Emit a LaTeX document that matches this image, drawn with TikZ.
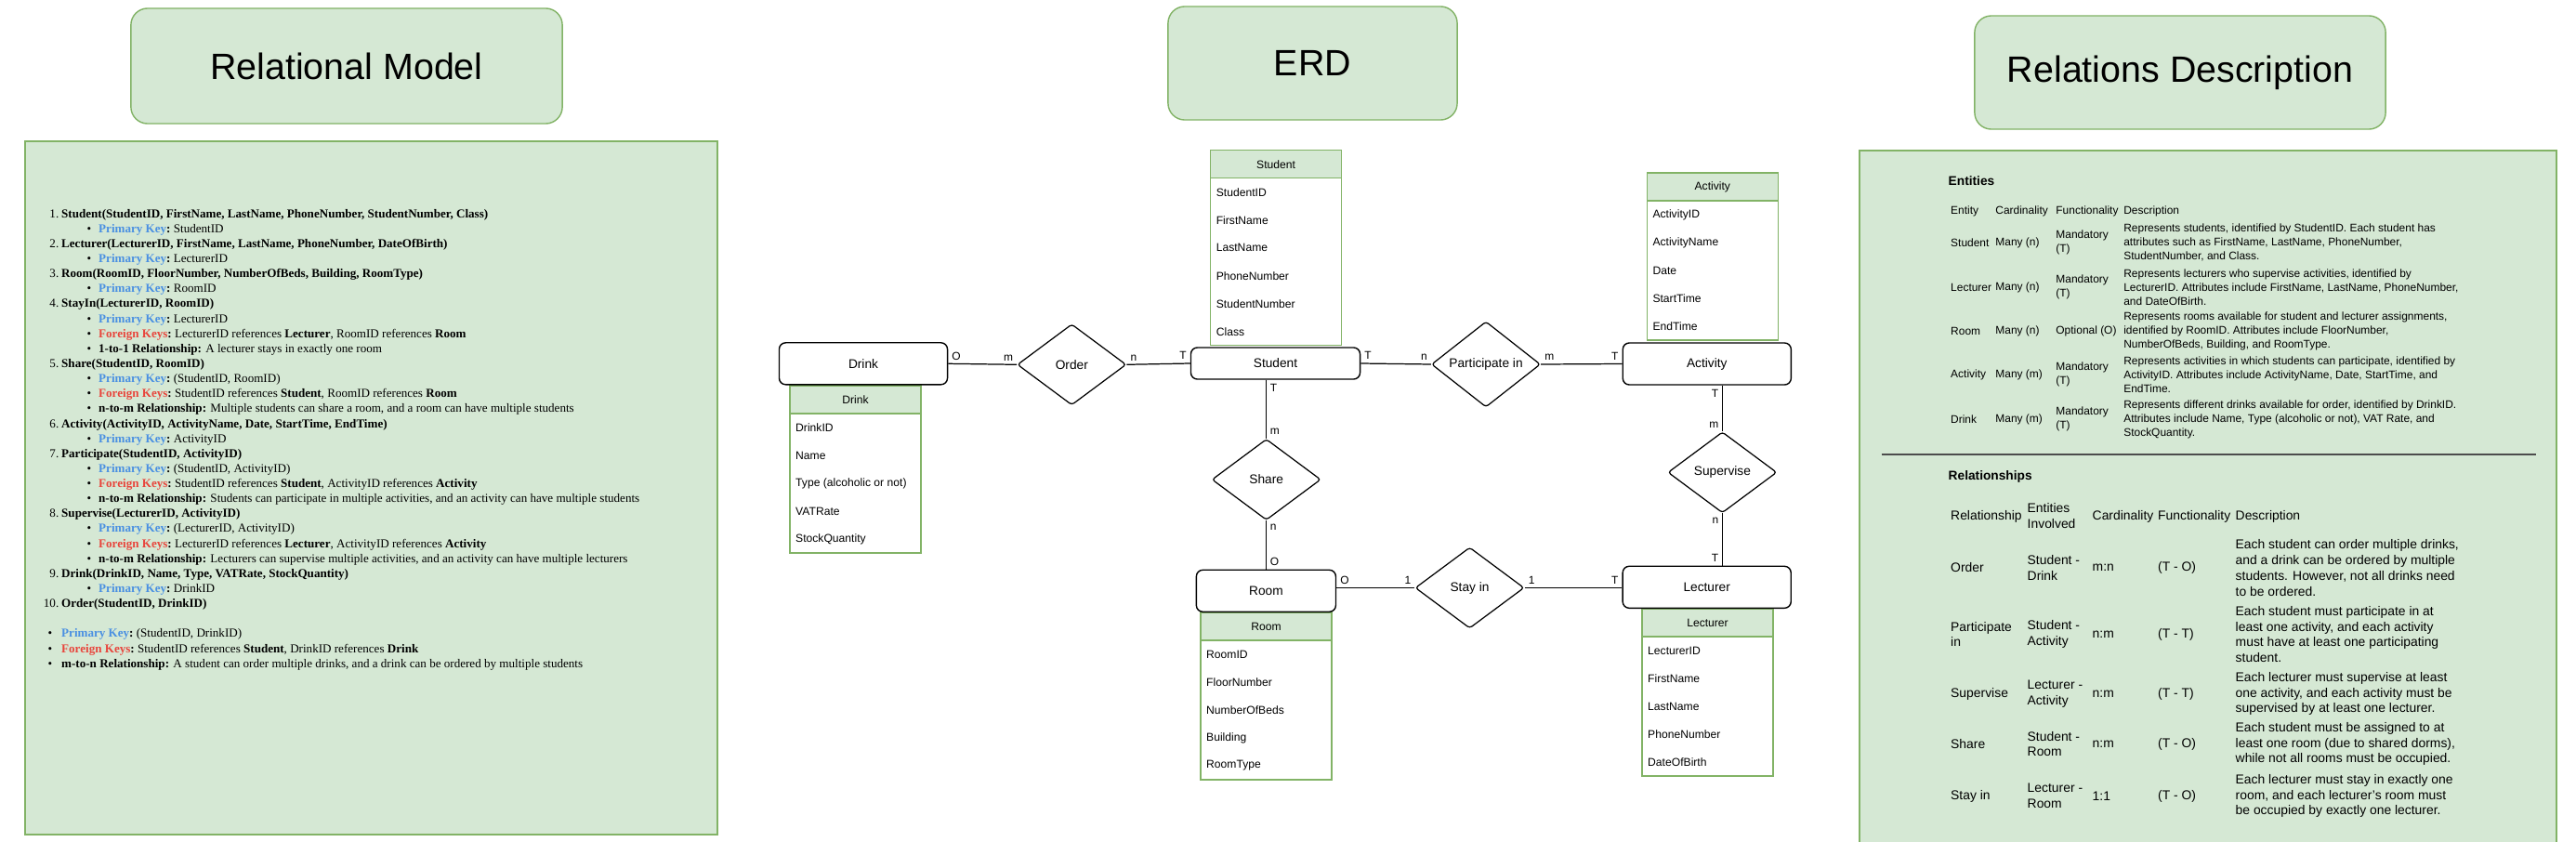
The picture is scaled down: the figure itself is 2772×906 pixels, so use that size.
\documentclass[tikz,border=0pt]{standalone}
\usepackage{fontspec}
\setmainfont{Liberation Sans}
\newfontfamily\serifrm{Liberation Serif}
\usetikzlibrary{shapes.geometric}

\definecolor{boxfill}{HTML}{D5E8D4}
\definecolor{boxline}{HTML}{82B366}
\definecolor{keyblue}{HTML}{4A90E2}
\definecolor{keyred}{HTML}{E8453C}
\newcommand{\pkey}{\textcolor{keyblue}{\textbf{Primary Key}}\textbf{:}}
\newcommand{\fkey}{\textcolor{keyred}{\textbf{Foreign Keys}}\textbf{:}}

\begin{document}
\begin{tikzpicture}[x=0.01cm,y=-0.01cm,
  title/.style={draw=boxline,fill=boxfill,rounded corners=0.18cm,font=\fontsize{11.2}{13}\selectfont},
  panel/.style={draw=boxline,fill=boxfill,line width=0.5pt},
  rmtext/.style={anchor=base west,inner sep=0,font=\serifrm\fontsize{3.72}{4.55}\selectfont},
  entity/.style={draw,rounded corners=0.07cm,fill=white,line width=0.4pt,minimum width=1.81cm,minimum height=0.45cm,font=\fontsize{3.9}{4.5}\selectfont},
  relation/.style={draw,diamond,fill=white,inner sep=0,line width=0.35pt,rounded corners=0.03cm,minimum width=1.17cm,minimum height=0.87cm,font=\fontsize{3.9}{4.5}\selectfont},
  tabtext/.style={inner sep=0,font=\fontsize{3.45}{4}\selectfont},
  attr/.style={tabtext,anchor=west},
  card/.style={inner sep=1pt,font=\fontsize{3.4}{4}\selectfont},
  link/.style={line width=0.35pt},
  cell/.style={anchor=west,inner sep=0,align=left,font=\fontsize{3.4}{4.25}\selectfont},
  rcell/.style={anchor=west,inner sep=0,align=left,font=\fontsize{3.95}{4.75}\selectfont},
  heading/.style={anchor=west,inner sep=0,font=\bfseries\fontsize{3.9}{4.5}\selectfont}]
\useasboundingbox (0,0) rectangle (2772,906);
\fill[white] (0,0) rectangle (2772,906);

% titles
\node[title,minimum width=4.64cm,minimum height=1.24cm] (reltitle) at (373,71) {Relational Model};
\node[title,minimum width=3.11cm,minimum height=1.22cm] (erdtitle) at (1412.5,68) {ERD};
\node[title,minimum width=4.42cm,minimum height=1.22cm] (desctitle) at (2346,78) {Relations Description};

% relational model
\draw[panel] (27,152) rectangle (772,898);
\foreach \i/\num/\txt in {
  1/1./{Student(StudentID, FirstName, LastName, PhoneNumber, StudentNumber, Class)},
  3/2./{Lecturer(LecturerID, FirstName, LastName, PhoneNumber, DateOfBirth)},
  5/3./{Room(RoomID, FloorNumber, NumberOfBeds, Building, RoomType)},
  7/4./{StayIn(LecturerID, RoomID)},
  11/5./{Share(StudentID, RoomID)},
  15/6./{Activity(ActivityID, ActivityName, Date, StartTime, EndTime)},
  17/7./{Participate(StudentID, ActivityID)},
  21/8./{Supervise(LecturerID, ActivityID)},
  25/9./{Drink(DrinkID, Name, Type, VATRate, StockQuantity)},
  27/10./{Order(StudentID, DrinkID)}}{
  \node[rmtext,anchor=base east] (num\i) at (64,{234.2+16.13*(\i-1)}) {\num};
  \node[rmtext] (line\i) at (65.5,{234.2+16.13*(\i-1)}) {\textbf{\txt}};
}
\foreach \i/\txt in {
  2/{\pkey\ StudentID},
  4/{\pkey\ LecturerID},
  6/{\pkey\ RoomID},
  8/{\pkey\ LecturerID},
  9/{\fkey\ LecturerID references \textbf{Lecturer}, RoomID references \textbf{Room}},
  10/{\textbf{1-to-1 Relationship:} A lecturer stays in exactly one room},
  12/{\pkey\ (StudentID, RoomID)},
  13/{\fkey\ StudentID references \textbf{Student}, RoomID references \textbf{Room}},
  14/{\textbf{n-to-m Relationship:} Multiple students can share a room, and a room can have multiple students},
  16/{\pkey\ ActivityID},
  18/{\pkey\ (StudentID, ActivityID)},
  19/{\fkey\ StudentID references \textbf{Student}, ActivityID references \textbf{Activity}},
  20/{\textbf{n-to-m Relationship:} Students can participate in multiple activities, and an activity can have multiple students},
  22/{\pkey\ (LecturerID, ActivityID)},
  23/{\fkey\ LecturerID references \textbf{Lecturer}, ActivityID references \textbf{Activity}},
  24/{\textbf{n-to-m Relationship:} Lecturers can supervise multiple activities, and an activity can have multiple lecturers},
  26/{\pkey\ DrinkID}}{
  \node[rmtext] (dot\i) at (92.8,{234.2+16.13*(\i-1)}) {\textbullet};
  \node[rmtext] (line\i) at (105.5,{234.2+16.13*(\i-1)}) {\txt};
}
\foreach \y/\txt [count=\k] in {
  685.2/{\pkey\ (StudentID, DrinkID)},
  702.2/{\fkey\ StudentID references \textbf{Student}, DrinkID references \textbf{Drink}},
  718.5/{\textbf{m-to-n Relationship:} A student can order multiple drinks, and a drink can be ordered by multiple students}}{
  \node[rmtext] (odot\k) at (51,\y) {\textbullet};
  \node[rmtext] (oline\k) at (65.5,\y) {\txt};
}

% ERD: attribute tables
\foreach \tab/\tx/\ty/\n/\attrs in {
  Drink/850/415/5/{DrinkID,Name,Type (alcoholic or not),VATRate,StockQuantity},
  Student/1302.6/161.7/6/{StudentID,FirstName,LastName,PhoneNumber,StudentNumber,Class},
  Activity/1772.3/186/5/{ActivityID,ActivityName,Date,StartTime,EndTime},
  Room/1292/659/5/{RoomID,FloorNumber,NumberOfBeds,Building,RoomType},
  Lecturer/1767/655/5/{LecturerID,FirstName,LastName,PhoneNumber,DateOfBirth}}{
  \draw[boxline,fill=white,line width=0.4pt] (\tx,\ty) rectangle ++(141,{30*(\n+1)});
  \draw[boxline,fill=boxfill,line width=0.4pt] (\tx,\ty) rectangle ++(141,30);
  \node[tabtext] (\tab-head) at ({\tx+70.5},{\ty+15}) {\tab};
  \foreach \a [count=\k] in \attrs
    \node[attr] (\tab-\k) at ({\tx+5.5},{\ty+15+30*\k}) {\a};
}

% ERD: entities and relationships
\node[entity] (drink) at (929,391.3) {Drink};
\node[entity,minimum width=1.82cm,minimum height=0.34cm] (student) at (1372.5,391) {Student};
\node[entity] (activity) at (1836.8,391.5) {Activity};
\node[entity,minimum width=1.5cm] (room) at (1362.4,635.8) {Room};
\node[entity] (lecturer) at (1836.7,631.8) {Lecturer};

\node[relation] (order) at (1153.3,392.3) {Order};
\node[relation] (participate) at (1599,392) {Participate in};
\node[relation] (share) at (1362.7,516) {Share};
\node[relation] (stayin) at (1581.5,632.5) {Stay in};
\node[relation] (supervise) at (1853.4,508.3) {Supervise};

\draw[link] (drink.east) -- node[card,pos=0,anchor=south west]{O} node[card,pos=1,anchor=south east]{m} (order.west);
\draw[link] (order.east) -- node[card,pos=0,anchor=south west]{n} node[card,pos=1,anchor=south east]{T} (student.west);
\draw[link] (student.east) -- node[card,pos=0,anchor=south west]{T} node[card,pos=1,anchor=south east]{n} (participate.west);
\draw[link] (participate.east) -- node[card,pos=0,anchor=south west]{m} node[card,pos=1,anchor=south east]{T} (activity.west);
\draw[link] (share.north |- student.south) -- node[card,pos=0,anchor=north west]{T} node[card,pos=1,anchor=south west]{m} (share.north);
\draw[link] (share.south) -- node[card,pos=0,anchor=north west]{n} node[card,pos=1,anchor=south west]{O} (share.south |- room.north);
\draw[link] (stayin.west -| room.east) -- node[card,pos=0,anchor=south west]{O} node[card,pos=1,anchor=south east]{1} (stayin.west);
\draw[link] (stayin.east) -- node[card,pos=0,anchor=south west]{1} node[card,pos=1,anchor=south east]{T} (stayin.east -| lecturer.west);
\draw[link] (supervise.north |- activity.south) -- node[card,pos=0,anchor=north east]{T} node[card,pos=1,anchor=south east]{m} (supervise.north);
\draw[link] (supervise.south) -- node[card,pos=0,anchor=north east]{n} node[card,pos=1,anchor=south east]{T} (supervise.south |- lecturer.north);

% relations description
\draw[panel] (2001,162) rectangle (2751,915);
\node[heading] (enthead) at (2096,195) {Entities};
\node[cell] (eh1) at (2098.5,227.7) {Entity};
\node[cell] (eh2) at (2146.7,227.7) {Cardinality};
\node[cell] (eh3) at (2211.7,227.7) {Functionality};
\node[cell] (eh4) at (2284.6,227.7) {Description};
\foreach \y/\ent/\card/\func/\desc [count=\i] in {
  261/Student/Many (n)/{Mandatory\\(T)}/{Represents students, identified by StudentID. Each student has\\attributes such as FirstName, LastName, PhoneNumber,\\StudentNumber, and Class.},
  309/Lecturer/Many (n)/{Mandatory\\(T)}/{Represents lecturers who supervise activities, identified by\\LecturerID. Attributes include FirstName, LastName, PhoneNumber,\\and DateOfBirth.},
  356/Room/Many (n)/{Optional (O)}/{Represents rooms available for student and lecturer assignments,\\identified by RoomID. Attributes include FloorNumber,\\NumberOfBeds, Building, and RoomType.},
  403/Activity/Many (m)/{Mandatory\\(T)}/{Represents activities in which students can participate, identified by\\ActivityID. Attributes include ActivityName, Date, StartTime, and\\EndTime.},
  451/Drink/Many (m)/{Mandatory\\(T)}/{Represents different drinks available for order, identified by DrinkID.\\Attributes include Name, Type (alcoholic or not), VAT Rate, and\\StockQuantity.}}{
  \node[cell] (ent\i) at (2098.5,\y) {\ent};
  \node[cell] (entcard\i) at (2146.7,\y) {\card};
  \node[cell] (entfunc\i) at (2211.7,\y) {\func};
  \node[cell] (entdesc\i) at (2284.6,\y) {\desc};
}
\draw[line width=0.5pt,black!70] (2024.6,489) -- (2728.7,489);

\node[heading] (relhead) at (2096,513.3) {Relationships};
\node[rcell] (rh1) at (2098.5,556) {Relationship};
\node[rcell] (rh2) at (2181,555) {Entities\\Involved};
\node[rcell] (rh3) at (2251,556) {Cardinality};
\node[rcell] (rh4) at (2321.5,556) {Functionality};
\node[rcell] (rh5) at (2405,556) {Description};
\foreach \y/\rel/\ents/\card/\func/\desc [count=\i] in {
  611/Order/{Student -\\Drink}/m:n/(T - O)/{Each student can order multiple drinks,\\and a drink can be ordered by multiple\\students. However, not all drinks need\\to be ordered.},
  682.5/{Participate\\in}/{Student -\\Activity}/n:m/(T - T)/{Each student must participate in at\\least one activity, and each activity\\must have at least one participating\\student.},
  746.5/Supervise/{Lecturer -\\Activity}/n:m/(T - T)/{Each lecturer must supervise at least\\one activity, and each activity must be\\supervised by at least one lecturer.},
  800.5/Share/{Student -\\Room}/n:m/(T - O)/{Each student must be assigned to at\\least one room (due to shared dorms),\\while not all rooms must be occupied.},
  856.5/Stay in/{Lecturer -\\Room}/1:1/(T - O)/{Each lecturer must stay in exactly one\\room, and each lecturer’s room must\\be occupied by exactly one lecturer.}}{
  \node[rcell] (rel\i) at (2098.5,\y) {\rel};
  \node[rcell] (relents\i) at (2181,\y) {\ents};
  \node[rcell] (relcard\i) at (2251,\y) {\card};
  \node[rcell] (relfunc\i) at (2321.5,\y) {\func};
  \node[rcell] (reldesc\i) at (2405,\y) {\desc};
}
\end{tikzpicture}
\end{document}
